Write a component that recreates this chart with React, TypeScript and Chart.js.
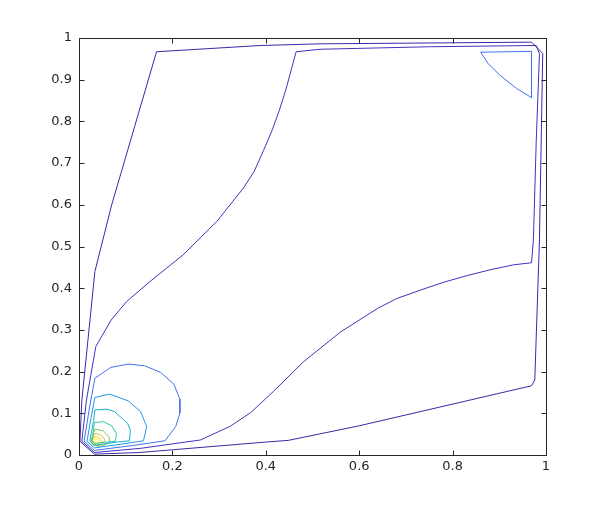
import React, { useEffect, useRef } from "react";
import { Chart, registerables } from "chart.js";

Chart.register(...registerables);

// Tick values and labels
const xTickValues = [0, 0.2, 0.4, 0.6, 0.8, 1];
const xTickLabels = ["0", "0.2", "0.4", "0.6", "0.8", "1"];
const yTickValues = [0, 0.1, 0.2, 0.3, 0.4, 0.5, 0.6, 0.7, 0.8, 0.9, 1];
const yTickLabels = ["0", "0.1", "0.2", "0.3", "0.4", "0.5", "0.6", "0.7", "0.8", "0.9", "1"];

// Contour lines (x, y), lowest level first
const level1 = [
  [0.002, 0.033], [0.006, 0.13], [0.034, 0.44], [0.07, 0.6], [0.166, 0.967],
  [0.388, 0.982], [0.516, 0.986], [0.969, 0.99], [0.993, 0.963], [0.986, 0.516],
  [0.976, 0.18], [0.969, 0.166], [0.6, 0.07], [0.448, 0.035], [0.4, 0.031],
  [0.13, 0.006], [0.033, 0.002], [0.002, 0.033],
];
const level2 = [
  [0.006, 0.033], [0.016, 0.132], [0.036, 0.26], [0.069, 0.324], [0.102, 0.368],
  [0.152, 0.416], [0.223, 0.48], [0.295, 0.56], [0.352, 0.64], [0.375, 0.68],
  [0.395, 0.73], [0.414, 0.78], [0.43, 0.83], [0.444, 0.88], [0.456, 0.93],
  [0.465, 0.967], [0.516, 0.973], [0.75, 0.979], [0.979, 0.982], [0.986, 0.962],
  [0.979, 0.75], [0.973, 0.516], [0.969, 0.461], [0.93, 0.456], [0.88, 0.444],
  [0.83, 0.43], [0.78, 0.414], [0.73, 0.395], [0.68, 0.375], [0.64, 0.352],
  [0.56, 0.295], [0.48, 0.223], [0.416, 0.152], [0.368, 0.102], [0.324, 0.069],
  [0.26, 0.036], [0.132, 0.016], [0.033, 0.006], [0.006, 0.033],
];
const level3Corner = [
  [0.86, 0.966], [0.969, 0.968], [0.969, 0.857], [0.937, 0.879], [0.901, 0.911],
  [0.876, 0.939], [0.86, 0.966],
];
const level3 = [
  [0.011, 0.033], [0.022, 0.11], [0.034, 0.184], [0.068, 0.21], [0.105, 0.218],
  [0.14, 0.214], [0.175, 0.198], [0.203, 0.17], [0.216, 0.134], [0.216, 0.1],
  [0.207, 0.068], [0.184, 0.034], [0.11, 0.022], [0.033, 0.011], [0.011, 0.033],
];
const level4 = [
  [0.017, 0.033], [0.026, 0.09], [0.034, 0.138], [0.066, 0.146], [0.105, 0.13],
  [0.132, 0.104], [0.145, 0.068], [0.138, 0.034], [0.09, 0.026], [0.033, 0.017],
  [0.017, 0.033],
];
const level5 = [
  [0.023, 0.033], [0.031, 0.08], [0.034, 0.108], [0.06, 0.11], [0.076, 0.104],
  [0.09, 0.09], [0.104, 0.076], [0.11, 0.06], [0.108, 0.034], [0.08, 0.031],
  [0.033, 0.023], [0.023, 0.033],
];
const level6 = [
  [0.028, 0.033], [0.033, 0.078], [0.052, 0.08], [0.07, 0.07], [0.08, 0.052],
  [0.078, 0.033], [0.033, 0.028], [0.028, 0.033],
];
const level7 = [
  [0.026, 0.036], [0.034, 0.062], [0.052, 0.058], [0.064, 0.044], [0.066, 0.03],
  [0.046, 0.02], [0.03, 0.024], [0.026, 0.036],
];
const level8 = [
  [0.027, 0.036], [0.034, 0.052], [0.048, 0.047], [0.056, 0.035], [0.045, 0.023],
  [0.031, 0.026], [0.027, 0.036],
];
const level9 = [
  [0.029, 0.035], [0.034, 0.045], [0.044, 0.041], [0.049, 0.032], [0.04, 0.025],
  [0.032, 0.028], [0.029, 0.035],
];
const level10 = [
  [0.031, 0.034], [0.035, 0.04], [0.041, 0.037], [0.043, 0.031], [0.037, 0.027],
  [0.033, 0.029], [0.031, 0.034],
];

const contourLines = [level1, level2, level3Corner, level3, level4, level5, level6, level7, level8, level9, level10];
const lineColors = [
  "#3E26A8", "#4232BC", "#4470EE", "#4470EE", "#2495EC", "#15AFCF",
  "#33C69E", "#83C752", "#D0C539", "#FDD030", "#F9FB15",
];

const AXIS_COLOR = "#262626";

const boxTicksPlugin = {
  id: "boxTicks",
  afterDatasetsDraw(chart: any) {
    const { ctx, chartArea } = chart;
    const xs = chart.scales.x;
    const ys = chart.scales.y;
    const len = 5;
    ctx.save();
    ctx.strokeStyle = AXIS_COLOR;
    ctx.lineWidth = 1;
    ctx.beginPath();
    const l = Math.round(chartArea.left) + 0.5;
    const r = Math.round(chartArea.right) + 0.5;
    const t = Math.round(chartArea.top) + 0.5;
    const b = Math.round(chartArea.bottom) + 0.5;
    ctx.rect(l, t, r - l, b - t);
    xTickValues.forEach((v) => {
      const px = Math.round(xs.getPixelForValue(v)) + 0.5;
      ctx.moveTo(px, b);
      ctx.lineTo(px, b - len);
      ctx.moveTo(px, t);
      ctx.lineTo(px, t + len);
    });
    yTickValues.forEach((v) => {
      const py = Math.round(ys.getPixelForValue(v)) + 0.5;
      ctx.moveTo(l, py);
      ctx.lineTo(l + len, py);
      ctx.moveTo(r, py);
      ctx.lineTo(r - len, py);
    });
    ctx.stroke();
    ctx.restore();
  },
};

export default function App() {
  const canvasRef = useRef<HTMLCanvasElement | null>(null);

  useEffect(() => {
    if (!canvasRef.current) return;
    const datasets = contourLines.map((line, i) => ({
      data: line.map(([x, y]) => ({ x, y })),
      showLine: true,
      borderColor: lineColors[i],
      backgroundColor: lineColors[i],
      borderWidth: 1,
      pointRadius: 0,
      pointHoverRadius: 0,
      fill: false,
      tension: 0,
    }));
    const tickFont = { family: "DejaVu Sans", size: 13 };
    const chart = new Chart(canvasRef.current, {
      type: "scatter",
      data: { datasets },
      options: {
        animation: false,
        responsive: false,
        devicePixelRatio: 1,
        layout: { padding: { left: 0, right: 59, top: 38, bottom: 0 } },
        plugins: { legend: { display: false }, tooltip: { enabled: false } },
        events: [],
        scales: {
          x: {
            type: "linear",
            min: 0,
            max: 1,
            grid: { display: false, drawTicks: false },
            border: { display: false },
            afterBuildTicks: (s: any) => {
              s.ticks = xTickValues.map((v) => ({ value: v }));
            },
            afterFit: (s: any) => {
              s.height = 56;
            },
            ticks: {
              padding: 4,
              color: AXIS_COLOR,
              font: tickFont,
              maxRotation: 0,
              autoSkip: false,
              callback: (_v: any, i: number) => xTickLabels[i],
            },
          },
          y: {
            type: "linear",
            min: 0,
            max: 1,
            grid: { display: false, drawTicks: false },
            border: { display: false },
            afterBuildTicks: (s: any) => {
              s.ticks = yTickValues.map((v) => ({ value: v }));
            },
            afterFit: (s: any) => {
              s.width = 79;
            },
            ticks: {
              padding: 7,
              color: AXIS_COLOR,
              font: tickFont,
              autoSkip: false,
              callback: (_v: any, i: number) => yTickLabels[i],
            },
          },
        },
      },
      plugins: [boxTicksPlugin],
    });
    return () => chart.destroy();
  }, []);

  return (
    <div style={{ position: "absolute", left: 0, top: 0, width: 605, height: 511, background: "#fff" }}>
      <canvas ref={canvasRef} width={605} height={511} style={{ display: "block", width: 605, height: 511 }} />
    </div>
  );
}
